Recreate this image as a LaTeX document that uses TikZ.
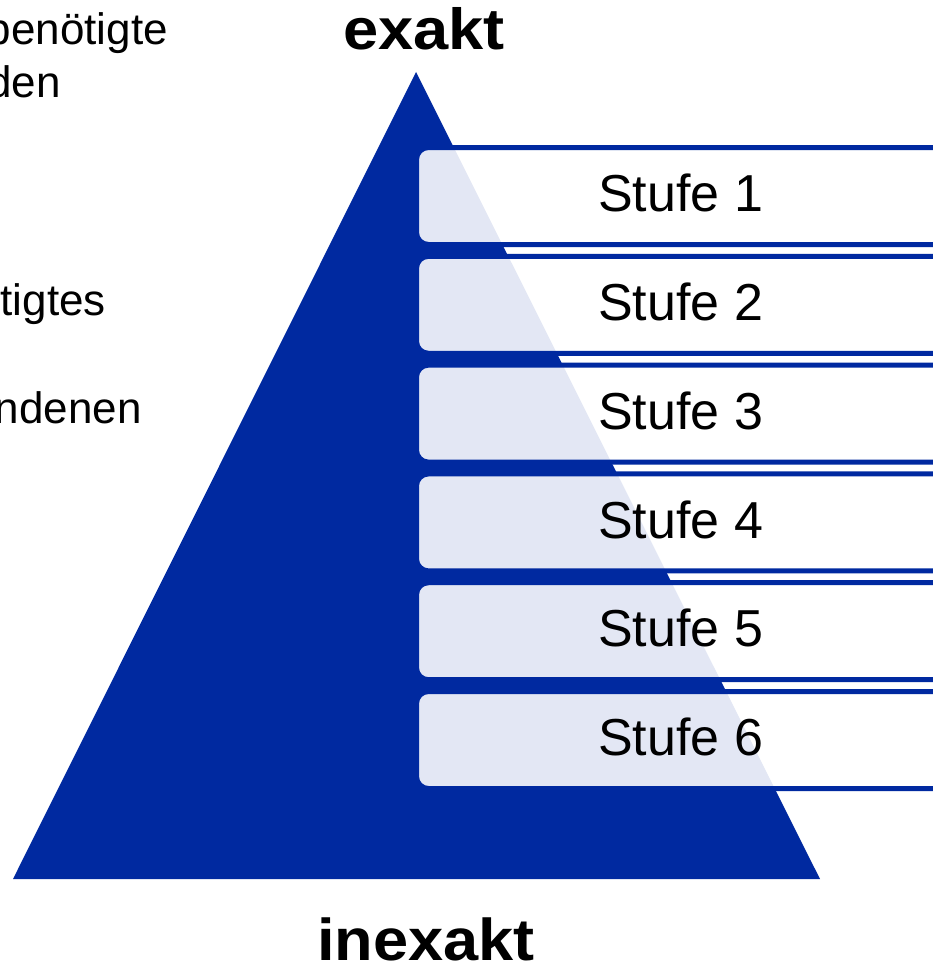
\documentclass[tikz,border=0pt]{standalone}
\usepackage{fontspec}
\setmainfont{Liberation Sans}
\definecolor{pyrblue}{RGB}{0,41,160}
\tikzset{
  stufebox/.style={draw=pyrblue, line width=5pt, fill=white, fill opacity=0.89, draw opacity=1, rounded corners=12pt},
  stufetext/.style={inner sep=0pt, anchor=base west, font=\fontsize{52}{60}\selectfont, text=black},
  sidetext/.style={inner sep=0pt, anchor=base east, font=\fontsize{44}{50}\selectfont, text=black},
  headtext/.style={inner sep=0pt, anchor=base, font=\fontsize{58}{66}\selectfont\bfseries, text=black, xscale=1.09}
}
\begin{document}
\begin{tikzpicture}[x=1pt, y=-1pt]
\useasboundingbox (0,0) rectangle (933,963);
\clip (0,0) rectangle (933,963);
% pyramid
\coordinate (apex) at (416,72);
\coordinate (bl) at (13,879);
\coordinate (br) at (820,879);
\fill[pyrblue] (apex) -- (br) -- (bl) -- cycle;
% boxes
\foreach \i in {0,...,5}{
  \pgfmathsetmacro{\yt}{147.5+108.8*\i}
  \pgfmathsetmacro{\yb}{\yt+97}
  \pgfmathsetmacro{\ybase}{211.7+108.8*\i}
  \pgfmathtruncatemacro{\n}{\i+1}
  \draw[stufebox] (416.5,\yt) rectangle (1010,\yb);
  \node[stufetext] (stufe\n) at (598,\ybase) {Stufe \n};
}
% headings
\node[headtext] (exakt) at (424,50) {exakt};
\node[headtext, font=\fontsize{59}{67}\selectfont\bfseries, xscale=1.07/1.09] (inexakt) at (426,960) {inexakt};
% clipped side texts
\node[sidetext] (s1) at (168,45) {benötigte};
\node[sidetext] (s2) at (61,98) {den};
\node[sidetext] (s3) at (106,315) {tigtes};
\node[sidetext] (s4) at (142,423) {ndenen};
\end{tikzpicture}
\end{document}
